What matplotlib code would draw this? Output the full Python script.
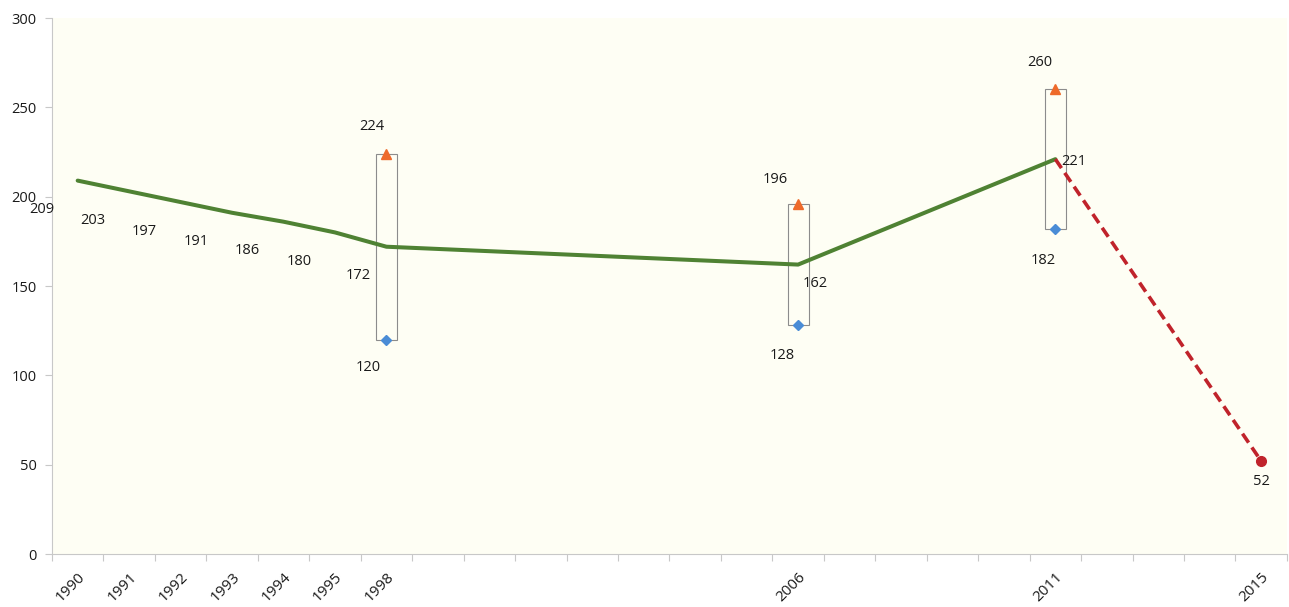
import matplotlib
matplotlib.use("Agg")
import matplotlib.pyplot as plt

# category axis: 1996/1997 are missing, every later year has a slot
categories = ['1990', '1991', '1992', '1993', '1994', '1995',
              '1998', '1999', '2000', '2001', '2002', '2003', '2004', '2005',
              '2006', '2007', '2008', '2009', '2010', '2011', '2012', '2013',
              '2014', '2015']
shown_labels = ['1990', '1991', '1992', '1993', '1994', '1995', '1998',
                '2006', '2011', '2015']

trend_years = ['1990', '1991', '1992', '1993', '1994', '1995', '1998', '2006', '2011']
trend_values = [209, 203, 197, 191, 186, 180, 172, 162, 221]

range_years = ['1998', '2006', '2011']
high_values = [224, 196, 260]
low_values = [120, 128, 182]

proj_years = ['2011', '2015']
proj_values = [221, 52]

GREEN = '#4f8233'
RED = '#c0232b'
ORANGE = '#ee6a2a'
BLUE = '#4a8cd6'
AXIS = '#c8c8c8'
TXT = '#1a1a1a'

plt.rcParams['font.family'] = ['Open Sans', 'DejaVu Sans']

fig = plt.figure(figsize=(12.89, 6.07), dpi=100)
ax = fig.add_axes([0.0403, 0.0873, 0.9581, 0.883])
ax.set_facecolor('#fefef4')


def pos(years):
    return [categories.index(y) for y in years]


tx = pos(trend_years)
rx = pos(range_years)
px = pos(proj_years)

# high-low boxes
ax.bar(rx, [h - l for h, l in zip(high_values, low_values)], bottom=low_values,
       width=0.41, facecolor='none', edgecolor='#8c8c8c', linewidth=0.8, zorder=2)

ax.plot(tx, trend_values, color=GREEN, linewidth=2.9, solid_capstyle='round', zorder=3)
ax.plot(px, proj_values, color=RED, linewidth=2.6, linestyle=(0, (3, 1.6)), zorder=3)
ax.plot(px[-1:], proj_values[-1:], 'o', color=RED, markersize=7, zorder=4)

ax.plot(rx, high_values, '^', color=ORANGE, markersize=7, linestyle='none', zorder=4)
ax.plot(rx, low_values, 'D', color=BLUE, markersize=5, linestyle='none', zorder=4)

# data labels (offsets in pixels -> points)
k = 72 / 100
for x, v in zip(tx, trend_values):
    yr = categories[x]
    if yr == '2006':
        off = (17, -19)
    elif yr == '2011':
        off = (18, -2)
    elif yr == '1998':
        off = (-28, -29)
    else:
        off = (-36, -29)
    ax.annotate(str(v), (x, v), xytext=(off[0] * k, off[1] * k), textcoords='offset points',
                ha='center', va='center', fontsize=10.5, color=TXT, zorder=5)

for x, v, o in zip(rx, high_values, [(-15, 27), (-23, 24), (-16, 27)]):
    ax.annotate(str(v), (x, v), xytext=(o[0] * k, o[1] * k), textcoords='offset points',
                ha='center', va='center', fontsize=10.5, color=TXT, zorder=5)

for x, v, o in zip(rx, low_values, [(-18, -28), (-16, -30), (-12, -32)]):
    ax.annotate(str(v), (x, v), xytext=(o[0] * k, o[1] * k), textcoords='offset points',
                ha='center', va='center', fontsize=10.5, color=TXT, zorder=5)

ax.annotate(str(proj_values[-1]), (px[-1], proj_values[-1]), xytext=(0, -20 * k),
            textcoords='offset points', ha='center', va='center', fontsize=10.5,
            color=TXT, zorder=5)

ax.set_xlim(-0.5, len(categories) - 0.5)
ax.set_ylim(0, 300)
ax.set_yticks(range(0, 301, 50))

ax.set_xticks(pos(shown_labels))
ax.set_xticklabels(shown_labels, rotation=45, ha='right', rotation_mode='anchor',
                   fontsize=11, color=TXT)
ax.set_xticks([i - 0.5 for i in range(len(categories) + 1)], minor=True)
ax.tick_params(axis='x', which='major', length=0, pad=11)
ax.tick_params(axis='x', which='minor', length=5, color=AXIS, width=0.8)
ax.tick_params(axis='y', length=5, color=AXIS, width=0.8, labelsize=10.5,
               labelcolor=TXT, pad=6)

for s in ['top', 'right']:
    ax.spines[s].set_visible(False)
for s in ['left', 'bottom']:
    ax.spines[s].set_color(AXIS)
    ax.spines[s].set_linewidth(0.8)

fig.savefig('out.png', dpi=100)
